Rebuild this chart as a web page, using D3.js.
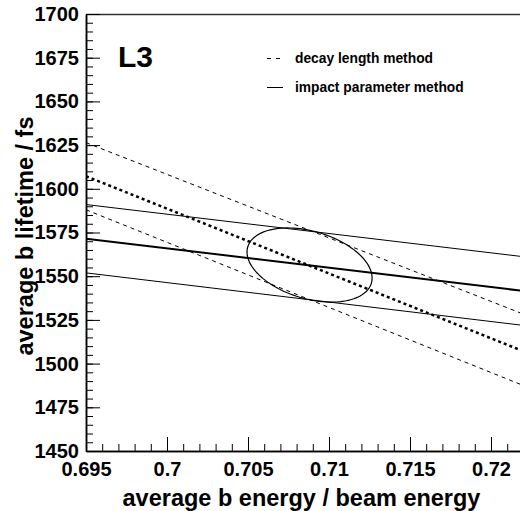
<!DOCTYPE html>
<html>
<head>
<meta charset="utf-8">
<script src="https://cdn.jsdelivr.net/npm/d3@7"></script>
<style>
  html, body { margin: 0; padding: 0; background: #fff; }
  svg { display: block; }
  text { font-family: "Liberation Sans", Arial, Helvetica, sans-serif; font-weight: bold; fill: #000; }
</style>
</head>
<body>
<div id="chart"></div>
<script>
// ---- data ----
const xEnds = [0.695, 0.7225];
const decayCentral = [1607.2, 1505.2];
const decayUpper   = [1626.4, 1526.5];
const decayLower   = [1588.0, 1485.6];
const impactCentral = [1571.5, 1541.0];
const impactUpper   = [1591.0, 1560.6];
const impactLower   = [1551.9, 1521.3];
// combined 1-sigma ellipse: centre, sigmas, correlation
const ellipseCenter = [0.7088, 1556.4];
const ellipseSigma = [0.00386, 21.2];
const ellipseRho = -0.35;
const xTickValues = [0.695, 0.7, 0.705, 0.71, 0.715, 0.72];
const xTickLabels = ["0.695", "0.7", "0.705", "0.71", "0.715", "0.72"];
const yTickValues = [1450, 1475, 1500, 1525, 1550, 1575, 1600, 1625, 1650, 1675, 1700];
const yTickLabels = ["1450", "1475", "1500", "1525", "1550", "1575", "1600", "1625", "1650", "1675", "1700"];
const legendLabels = ["decay length method", "impact parameter method"];

const W = 520, H = 511;
const svg = d3.select("#chart").append("svg").attr("width", W).attr("height", H);

const x = d3.scaleLinear().domain(xEnds).range([86, 531.5]);
const y = d3.scaleLinear().domain([1450, 1700]).range([451, 14]);

svg.append("clipPath").attr("id", "clip").append("rect")
  .attr("x", x.range()[0]).attr("y", y.range()[1])
  .attr("width", x.range()[1] - x.range()[0]).attr("height", y.range()[0] - y.range()[1]);

const plot = svg.append("g").attr("clip-path", "url(#clip)");

const line = d3.line().x(d => x(d[0])).y(d => y(d[1]));
const mk = vals => xEnds.map((xv, i) => [xv, vals[i]]);

const series = [
  {v: decayUpper, w: 1, dash: "4,4"},
  {v: decayLower, w: 1, dash: "4,4"},
  {v: decayCentral, w: 2.5, dash: "3,3"},
  {v: impactUpper, w: 1, dash: null},
  {v: impactLower, w: 1, dash: null},
  {v: impactCentral, w: 2, dash: null}
];
series.forEach(s => {
  plot.append("path").attr("d", line(mk(s.v)))
    .attr("fill", "none").attr("stroke", "#000")
    .attr("stroke-width", s.w)
    .attr("stroke-dasharray", s.dash);
});

// ellipse
const ts = d3.range(0, 361, 3).map(a => a * Math.PI / 180);
const ePts = ts.map(t => [
  ellipseCenter[0] + ellipseSigma[0] * Math.cos(t),
  ellipseCenter[1] + ellipseSigma[1] * (ellipseRho * Math.cos(t) + Math.sqrt(1 - ellipseRho * ellipseRho) * Math.sin(t))
]);
plot.append("path").attr("d", d3.line().x(d => x(d[0])).y(d => y(d[1])).curve(d3.curveLinearClosed)(ePts))
  .attr("fill", "none").attr("stroke", "#000").attr("stroke-width", 1.2);

// frame top
svg.append("line").attr("x1", x.range()[0]).attr("x2", W).attr("y1", 14.5).attr("y2", 14.5)
  .attr("stroke", "#333").attr("stroke-width", 1.5);

// Y axis
const yAxis = d3.axisLeft(y).tickValues(yTickValues)
  .tickFormat((d, i) => yTickLabels[i]).tickSizeInner(-14).tickSizeOuter(0).tickPadding(7);
const gy = svg.append("g").attr("transform", `translate(${x.range()[0]},0)`).call(yAxis);
gy.selectAll("text").style("font-size", "20px");
const yMinor = d3.axisLeft(y).tickValues(d3.range(1450, 1701, 5)).tickFormat("").tickSizeInner(-7).tickSizeOuter(0);
svg.append("g").attr("transform", `translate(${x.range()[0]},0)`).call(yMinor);

// X axis
const xAxis = d3.axisBottom(x).tickValues(xTickValues)
  .tickFormat((d, i) => xTickLabels[i]).tickSizeInner(-14).tickSizeOuter(0).tickPadding(11);
const gx = svg.append("g").attr("transform", `translate(0,${y.range()[0]})`).call(xAxis);
gx.selectAll("text").style("font-size", "20px");
const xMinor = d3.axisBottom(x).tickValues(d3.range(0, 28).map(i => +(0.695 + i * 0.001).toFixed(3)))
  .tickFormat("").tickSizeInner(-7).tickSizeOuter(0);
svg.append("g").attr("transform", `translate(0,${y.range()[0]})`).call(xMinor);

svg.selectAll(".domain").attr("stroke", "#000").attr("stroke-width", 1.5);
svg.selectAll(".tick line").attr("stroke", "#000").attr("stroke-width", 1);
svg.selectAll("text").attr("font-family", null);

// axis titles
svg.append("text").attr("x", 301.5).attr("y", 506).attr("text-anchor", "middle")
  .style("font-size", "23.5px").text("average b energy / beam energy");
svg.append("text").attr("transform", "translate(33,236) rotate(-90)").attr("text-anchor", "middle")
  .style("font-size", "23.5px").text("average b lifetime / fs");

// L3 label
svg.append("text").attr("x", 118).attr("y", 67).style("font-size", "30px").text("L3");

// legend
svg.append("line").attr("x1", 267).attr("x2", 283).attr("y1", 58.5).attr("y2", 58.5)
  .attr("stroke", "#000").attr("stroke-width", 1).attr("stroke-dasharray", "4,5");
svg.append("line").attr("x1", 267).attr("x2", 283).attr("y1", 87.5).attr("y2", 87.5)
  .attr("stroke", "#000").attr("stroke-width", 1);
svg.append("text").attr("x", 295).attr("y", 63).style("font-size", "13.8px").text(legendLabels[0]);
svg.append("text").attr("x", 295).attr("y", 92).style("font-size", "13.8px").text(legendLabels[1]);
</script>
</body>
</html>
